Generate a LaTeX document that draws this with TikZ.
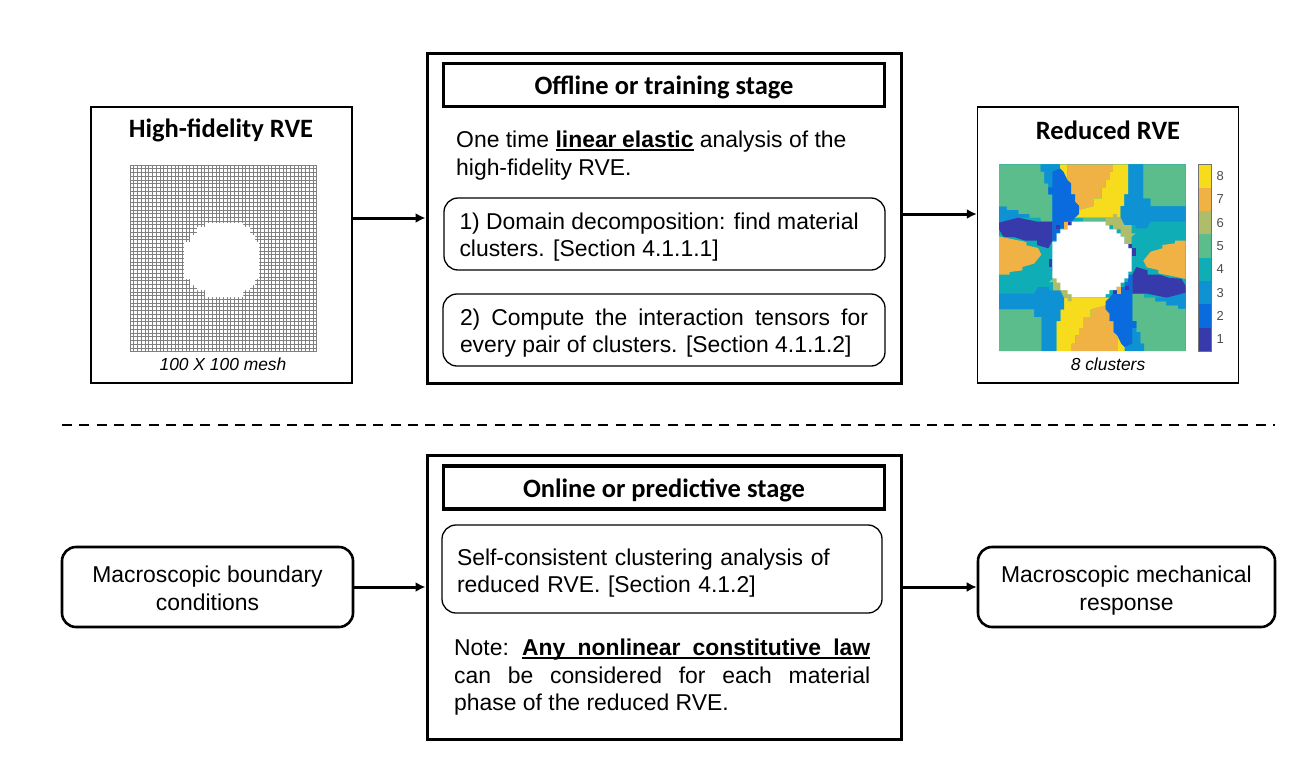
\documentclass[tikz,border=0pt]{standalone}
\usepackage{fontspec}
\setmainfont{Liberation Sans}
\newfontfamily\titlefont{Carlito}
\usetikzlibrary{arrows.meta,positioning}
\hyphenpenalty=10000
\definecolor{clust1}{RGB}{54,58,170}
\definecolor{clust2}{RGB}{10,107,222}
\definecolor{clust3}{RGB}{14,146,212}
\definecolor{clust4}{RGB}{15,174,183}
\definecolor{clust5}{RGB}{92,189,140}
\definecolor{clust6}{RGB}{174,189,106}
\definecolor{clust7}{RGB}{240,178,68}
\definecolor{clust8}{RGB}{247,220,30}
\newcommand{\dropline}{\rule{0pt}{23pt}}
\newcommand{\boldline}[2]{\rlap{\rule[-3.2pt]{#1}{1.8pt}}\hbox to #1{\bfseries #2}}
\tikzset{
  plainbox/.style={draw,line width=1.4pt,inner sep=0pt},
  stagebox/.style={draw,line width=3pt,inner sep=0pt},
  headbox/.style={draw,line width=3.4pt,inner sep=0pt,font=\titlefont\bfseries\fontsize{26.5}{30}\selectfont},
  stepbox/.style={draw,line width=1.3pt,rounded corners=14pt,inner sep=0pt,align=justify,font=\fontsize{22.9}{27.3}\selectfont},
  endbox/.style={draw,line width=2.6pt,rounded corners=14pt,inner sep=0pt,align=center,font=\fontsize{22.9}{28}\selectfont},
  bodytext/.style={inner sep=0pt,align=justify,font=\fontsize{22.9}{27.5}\selectfont},
  boxtitle/.style={inner sep=0pt,font=\titlefont\bfseries\fontsize{26.5}{30}\selectfont},
  caption/.style={inner sep=0pt,font=\itshape\fontsize{17.4}{20}\selectfont},
  flow/.style={line width=3pt,-{Latex[length=10pt,width=10pt]}}
}
\begin{document}
\begin{tikzpicture}[x=1pt,y=-1pt]
  \useasboundingbox (0,0) rectangle (1294,766);
  % offline row
  \node[plainbox,minimum width=261pt,minimum height=276pt] (highbox) at (221.5,245) {};
  \node[stagebox,minimum width=474pt,minimum height=330pt] (offline) at (664,218) {};
  \node[plainbox,minimum width=261pt,minimum height=276pt] (reducedbox) at (1108,245) {};
  \node[boxtitle] (hightitle) at (221,130) {High-fidelity RVE};
  \node[boxtitle] (reducedtitle) at (1108,130) {Reduced RVE};
  \node[caption] (meshcap) at (223,364) {100 X 100 mesh};
  \node[caption] (clustcap) at (1108,364) {8 clusters};
  \node[headbox,minimum width=441pt,minimum height=43pt] (offhead) at (664,85) {\rule{0pt}{24pt}Offline or training stage};
  \node[bodytext,text width=410pt,anchor=north west,align=left] (offtext) at (456,131)
    {\spaceskip=6.4pt One time \boldline{138pt}{linear\hfil elastic} analysis of the\\high-fidelity RVE.};
  \node[stepbox,minimum width=441pt,minimum height=72pt,text width=410pt] (stepone) at (664.5,234)
    {\dropline 1) Domain decomposition: find material\\clusters. [Section 4.1.1.1]};
  \node[stepbox,minimum width=442pt,minimum height=72pt,text width=408pt] (steptwo) at (664,330)
    {\dropline 2) Compute the interaction tensors for every pair of clusters. [Section 4.1.1.2]};
  % mesh
  \foreach \i in {0,...,50} {
    \draw[black!50,line width=0.5pt] (130+3.73*\i,165)--(130+3.73*\i,351);
    \draw[black!50,line width=0.5pt] (130,165+3.73*\i)--(316.5,165+3.73*\i);
  }
  \fill[white] (205,223)--(243,223)--(243,227)--(250,227)--(250,235)--(255,235)--(255,242)--(259,242)--(259,279)--(255,279)--(255,285)--(250,285)--(250,290)--(243,290)--(243,297)--(205,297)--(205,290)--(197,290)--(197,285)--(190,285)--(190,279)--(184,279)--(184,242)--(190,242)--(190,235)--(197,235)--(197,227)--(205,227)--cycle;
  % cluster map, half of it turned twice
  \begin{scope}[shift={(975,100)},scale=1/3]
    \fill[clust4] (72,193) rectangle (632,753);
    \foreach \ang in {0,180} {
      \begin{scope}[rotate around={\ang:(352,473)}]
        \fill[clust5] (72,193)--(197,193)--(197,215)--(208,215)--(208,250)--(220,250)--(220,283)--(232,283)--(232,365)--(197,365)--(197,353)--(163,353)--(163,342)--(130,342)--(130,330)--(95,330)--(95,320)--(72,320)--cycle;
        \fill[clust3] (72,320)--(95,320)--(95,330)--(130,330)--(130,342)--(163,342)--(163,353)--(130,353)--(130,358)--(72,368)--cycle;
        \fill[clust3] (197,193)--(255,193)--(255,205)--(232,215)--(232,283)--(220,283)--(220,250)--(208,250)--(208,215)--(197,215)--cycle;
        \fill[clust7] (277,193)--(414,193)--(414,215)--(403,215)--(403,240)--(392,240)--(392,262)--(380,262)--(380,295)--(357,295)--(357,318)--(312,330)--(312,318)--(300,305)--(300,283)--(288,283)--(288,250)--(277,240)--cycle;
        \fill[clust8] (255,193)--(277,193)--(277,240)--(265,215)--(255,205)--cycle;
        \fill[clust8] (414,193)--(460,193)--(460,283)--(448,283)--(448,318)--(437,318)--(437,353)--(300,353)--(312,330)--(357,318)--(357,295)--(380,295)--(380,262)--(392,262)--(392,240)--(403,240)--(403,215)--(414,215)--cycle;
        \fill[clust2] (232,215)--(255,205)--(265,215)--(277,240)--(288,250)--(288,283)--(300,283)--(300,305)--(312,318)--(312,342)--(300,353)--(290,365)--(268,365)--(268,385)--(255,385)--(255,400)--(245,400)--(245,422)--(232,422)--(232,283)--(220,283)--(220,262)--(232,262)--cycle;
        \fill[clust5] (323,353)--(392,353)--(392,368)--(323,368)--cycle;
        \fill[clust3] (460,193)--(505,193)--(505,295)--(527,295)--(527,318)--(632,318)--(632,365)--(527,365)--(515,385)--(482,385)--(482,375)--(448,375)--(437,353)--(437,318)--(448,318)--(448,283)--(460,283)--cycle;
        \fill[clust5] (505,193)--(632,193)--(632,318)--(527,318)--(527,295)--(505,295)--cycle;
        \fill[clust6] (392,353)--(414,353)--(414,342)--(426,342)--(426,353)--(437,353)--(448,375)--(470,375)--(470,400)--(482,400)--(470,410)--(470,432)--(448,432)--(448,410)--(437,410)--(437,388)--(414,388)--(414,375)--(392,375)--cycle;
        \fill[clust7] (632,422)--(600,422)--(600,430)--(562,435)--(562,445)--(527,455)--(505,482)--(515,502)--(550,510)--(550,520)--(600,530)--(632,537)--cycle;
        \fill[clust1] (72,368)--(130,353)--(186,365)--(232,365)--(232,422)--(220,445)--(186,435)--(186,422)--(150,422)--(120,412)--(85,410)--(72,388)--cycle;
        \fill[clust1] (243,375) rectangle (255,387);
        \fill[clust7] (266,365) rectangle (278,388);
        \fill[clust1] (278,365) rectangle (290,376);
        \fill[clust1] (460,433) rectangle (472,445);
        \fill[clust1] (472,445) rectangle (483,468);
      \end{scope}
    }
    \fill[white] (290,365)--(392,365)--(392,376)--(403,376)--(403,388)--(425,388)--(425,400)--(437,400)--(437,410)--(448,410)--(448,432)--(460,432)--(460,445)--(470,445)--(470,515)--(460,515)--(460,535)--(448,535)--(448,548)--(437,548)--(437,560)--(425,560)--(425,570)--(403,570)--(403,582)--(392,582)--(392,592)--(290,592)--(290,582)--(278,582)--(278,570)--(256,570)--(256,548)--(245,548)--(245,535)--(232,535)--(232,425)--(245,425)--(245,400)--(256,400)--(256,388)--(278,388)--(278,376)--(290,376)--cycle;
    % colour bar
    \foreach \k [count=\c from 0] in {1,...,8} {
      \fill[clust\k] (669,753-70*\c) rectangle (710,683-70*\c);
      \node[inner sep=0pt,text=black!70,font=\fontsize{13}{15}\selectfont] (tick\k) at (736,718-70*\c) {\k};
    }
    \draw[black!55,line width=0.7pt] (669,193) rectangle (710,753);
  \end{scope}
  \coordinate (offout) at (901,214);
  \draw[flow] (highbox.east |- offline.west)--(offline.west);
  \draw[flow] (offout)--(offout -| reducedbox.west);
  % divider
  \coordinate (dashl) at (62,425);
  \coordinate (dashr) at (1275,425);
  \draw[line width=1.8pt,dash pattern=on 10pt off 7.3pt] (dashl)--(dashr);
  % online row
  \node[endbox,minimum width=291pt,minimum height=80pt] (macroin) at (207.5,587) {\rule{0pt}{27.6pt}Macroscopic boundary\\conditions\strut};
  \node[stagebox,minimum width=474pt,minimum height=284pt] (online) at (664,597) {};
  \node[endbox,minimum width=297pt,minimum height=80pt] (macroout) at (1126.5,587) {\rule{0pt}{27.6pt}Macroscopic mechanical\\response\strut};
  \node[headbox,minimum width=441pt,minimum height=43pt] (onhead) at (664,487.5) {\rule{0pt}{24pt}Online or predictive stage};
  \node[stepbox,minimum width=440pt,minimum height=88pt,text width=410pt,align=left] (selfbox) at (662,569)
    {\rule{0pt}{25pt}Self-consistent clustering analysis of\\reduced RVE. [Section 4.1.2]};
  \node[bodytext,text width=416pt,anchor=north west] (notetext) at (454,639)
    {Note:\hfill\boldline{348pt}{Any nonlinear constitutive law}\linebreak can be considered for each material\linebreak phase of the reduced RVE.};
  \draw[flow] (macroin.east)--(macroin.east -| online.west);
  \draw[flow] (macroout.west -| online.east)--(macroout.west);
\end{tikzpicture}
\end{document}
